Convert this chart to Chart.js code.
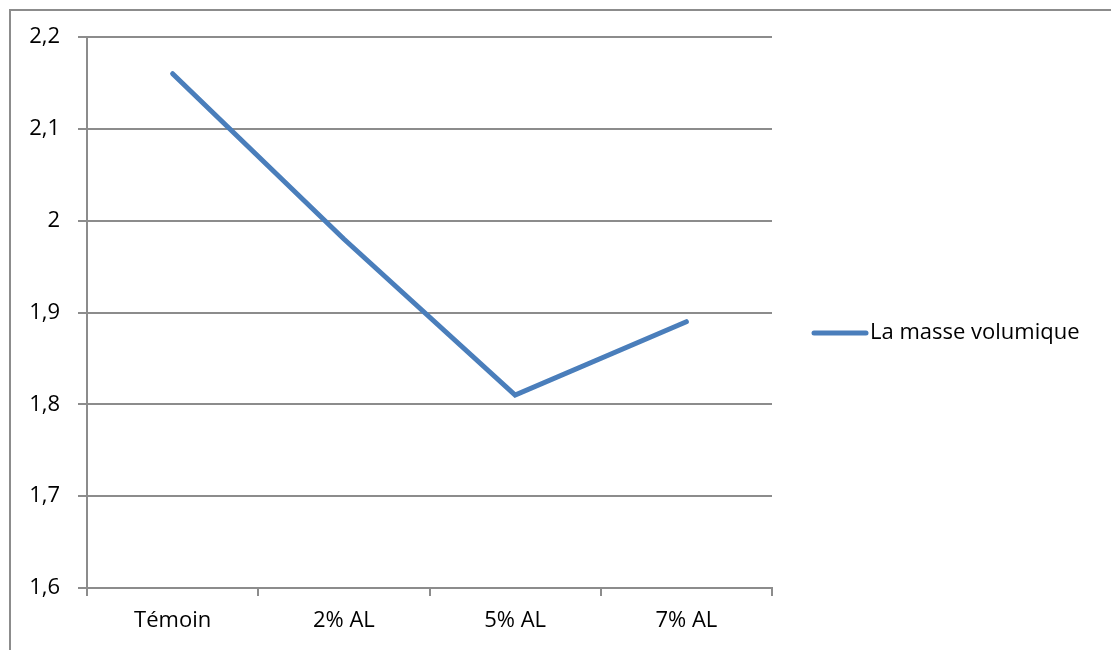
<!DOCTYPE html>
<html>
<head>
<meta charset="utf-8">
<script src="https://cdn.jsdelivr.net/npm/chart.js@4/dist/chart.umd.min.js"></script>
<style>
  body { margin: 0; background: #fff; }
  .wrap { position: relative; width: 1111px; height: 650px; overflow: hidden; }
  .frame { position: absolute; left: 9px; top: 9px; width: 1200px; height: 700px;
           border-top: 2px solid #8c8c8c; border-left: 2px solid #8c8c8c; }
  canvas { position: absolute; left: 0; top: 0; }
</style>
</head>
<body>
<div class="wrap">
  <div class="frame"></div>
  <canvas id="massChart" width="1111" height="650"></canvas>
</div>
<script>
// Data
const categories = ['Témoin', '2% AL', '5% AL', '7% AL'];
const masseVolumique = [2.16, 1.98, 1.81, 1.89];
const seriesLabel = 'La masse volumique';
const yTickLabels = ['1,6', '1,7', '1,8', '1,9', '2', '2,1', '2,2'];

const lineColor = '#4A7EBB';
const gridColor = '#8c8c8c';
const fontFamily = '"Open Sans", sans-serif';
const fontSize = 22;

// Simple legend on the right, drawn like the Excel one
const sideLegend = {
    id: 'sideLegend',
    afterDraw(chart) {
        const ctx = chart.ctx;
        const ds = chart.data.datasets[0];
        const y = 333;
        ctx.save();
        ctx.strokeStyle = ds.borderColor;
        ctx.lineWidth = 5;
        ctx.lineCap = 'round';
        ctx.beginPath();
        ctx.moveTo(814, y);
        ctx.lineTo(866, y);
        ctx.stroke();
        ctx.fillStyle = '#000';
        ctx.font = fontSize + 'px ' + fontFamily;
        ctx.textBaseline = 'middle';
        ctx.fillText(ds.label, 870, y);
        ctx.restore();
    }
};

const ctx = document.getElementById('massChart').getContext('2d');
const massChart = new Chart(ctx, {
    type: 'line',
    data: {
        labels: categories,
        datasets: [{
            label: seriesLabel,
            data: masseVolumique,
            borderColor: lineColor,
            backgroundColor: lineColor,
            borderWidth: 5,
            borderCapStyle: 'round',
            pointRadius: 0,
            tension: 0
        }]
    },
    options: {
        responsive: false,
        animation: false,
        layout: { padding: { top: 37, right: 339, left: 0, bottom: 0 } },
        scales: {
            x: {
                offset: true,
                grid: { offset: true, drawOnChartArea: false, drawTicks: true, tickLength: 8, color: gridColor, lineWidth: 2 },
                border: { display: true, color: gridColor, width: 2 },
                ticks: { color: '#000', font: { family: fontFamily, size: fontSize }, padding: 12, maxRotation: 0 },
                afterFit(scale) { scale.height = 62; }
            },
            y: {
                min: 1.6,
                max: 2.2,
                grid: { color: gridColor, lineWidth: 2, tickLength: 9 },
                border: { display: true, color: gridColor, width: 2 },
                ticks: {
                    stepSize: 0.1,
                    color: '#000',
                    padding: 18,
                    font: { family: fontFamily, size: fontSize },
                    callback: (value, index) => yTickLabels[index]
                },
                afterFit(scale) { scale.width = 87; }
            }
        },
        plugins: {
            legend: { display: false },
            tooltip: { enabled: false }
        }
    },
    plugins: [sideLegend]
});
</script>
</body>
</html>
